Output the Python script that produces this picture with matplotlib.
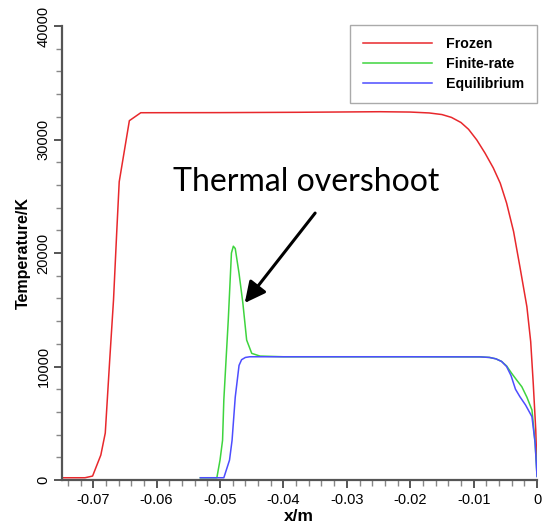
import numpy as np
import matplotlib
matplotlib.use('Agg')
import matplotlib.pyplot as plt
from matplotlib.ticker import MultipleLocator

# data (x in m, T in K)
frozen_x = [-0.0749, -0.0713, -0.0701, -0.0688, -0.0681, -0.0674, -0.0668, -0.0663,
            -0.0659, -0.0643, -0.0625, -0.0500, -0.0374, -0.0248, -0.0200, -0.0170,
            -0.0150, -0.0135, -0.0120, -0.0108, -0.0095, -0.0082, -0.0069, -0.0058,
            -0.0048, -0.0037, -0.0027, -0.0016, -0.0010, -0.0006, -0.0002, 0.0]
frozen_T = [200, 200, 350, 2200, 4140, 10570, 15860, 21760,
            26280, 31660, 32360, 32370, 32400, 32450, 32420, 32340,
            32200, 31950, 31500, 30900, 29960, 28800, 27500, 26150,
            24400, 21900, 18790, 15270, 12200, 8550, 4400, 880]

finite_x = [-0.0531, -0.0505, -0.0500, -0.0496, -0.0494, -0.0487, -0.0482, -0.0479,
            -0.0476, -0.0470, -0.0464, -0.0458, -0.0450, -0.0437, -0.0400, -0.0200,
            -0.0090, -0.0075, -0.0065, -0.0056, -0.0048, -0.0040, -0.0032, -0.0024,
            -0.0016, -0.0008, -0.0003, 0.0]
finite_T = [200, 200, 1760, 3500, 7050, 14100, 20000, 20600,
            20400, 18200, 15600, 12330, 11160, 10920, 10860, 10860,
            10850, 10800, 10680, 10450, 10050, 9400, 8800, 8220,
            7300, 6170, 3260, 350]

equil_x = [-0.0531, -0.0494, -0.0485, -0.0481, -0.0476, -0.0470, -0.0466, -0.0460,
           -0.0453, -0.0400, -0.0200, -0.0090, -0.0075, -0.0065, -0.0056, -0.0048,
           -0.0041, -0.0034, -0.0027, -0.0018, -0.0008, -0.0003, 0.0]
equil_T = [200, 200, 1760, 3500, 7300, 10100, 10600, 10800,
           10860, 10860, 10860, 10850, 10800, 10680, 10450, 10000,
           9200, 8000, 7340, 6600, 5580, 3260, 300]

fig = plt.figure(figsize=(5.43, 5.31), dpi=100)
ax = fig.add_axes([0.1133, 0.096, 0.8757, 0.855])

ax.plot(frozen_x, frozen_T, color='#e8282c', lw=1.1, label='Frozen')
ax.plot(finite_x, finite_T, color='#3ed43e', lw=1.1, label='Finite-rate')
ax.plot(equil_x, equil_T, color='#4d4dff', lw=1.1, label='Equilibrium')

ax.set_xlim(-0.075, 0)
ax.set_ylim(0, 40000)
ax.xaxis.set_major_locator(MultipleLocator(0.01))
ax.xaxis.set_minor_locator(MultipleLocator(0.002))
ax.yaxis.set_major_locator(MultipleLocator(10000))
ax.yaxis.set_minor_locator(MultipleLocator(2000))
ax.xaxis.set_major_formatter(plt.FuncFormatter(lambda v, p: '0' if abs(v) < 1e-9 else f'{v:.2f}'))

for s in ['top', 'right']:
    ax.spines[s].set_visible(False)
for s in ['left', 'bottom']:
    ax.spines[s].set_color('#555555')
    ax.spines[s].set_linewidth(1.6)

ax.tick_params(which='major', length=6, width=1.4, color='#555555', labelsize=10.5)
ax.tick_params(which='minor', length=4, width=1.0, color='#888888')
ax.tick_params(axis='y', labelrotation=90, pad=2)
for lab in ax.get_yticklabels():
    lab.set_va('center')
for lab in ax.get_xticklabels() + ax.get_yticklabels():
    lab.set_family('Liberation Sans')

ax.set_xlabel('x/m', fontsize=12.5, fontweight='bold', family='Liberation Sans', labelpad=1)
ax.set_ylabel('Temperature/K', fontsize=11.5, fontweight='bold', family='Liberation Sans', labelpad=4)

leg = ax.legend(loc='upper right', bbox_to_anchor=(1.0, 1.003), handlelength=4.9,
                prop={'family': 'Liberation Sans', 'weight': 'bold', 'size': 10.2},
                fancybox=False, framealpha=1, edgecolor='#aaaaaa',
                borderpad=0.9, labelspacing=0.4, handletextpad=1.0, borderaxespad=0)
leg.get_frame().set_linewidth(1.0)

# annotation
ax.text(-0.0364, 26256, 'Thermal overshoot', fontsize=23, family='Lato',
        ha='center', va='center')
ax.annotate('', xy=(-0.0461, 15600), xytext=(-0.0350, 23520),
            arrowprops=dict(arrowstyle='-|>,head_length=0.9,head_width=0.45',
                            lw=2.2, color='black', shrinkA=0, shrinkB=0,
                            mutation_scale=14))

fig.savefig('out.png', dpi=100)
